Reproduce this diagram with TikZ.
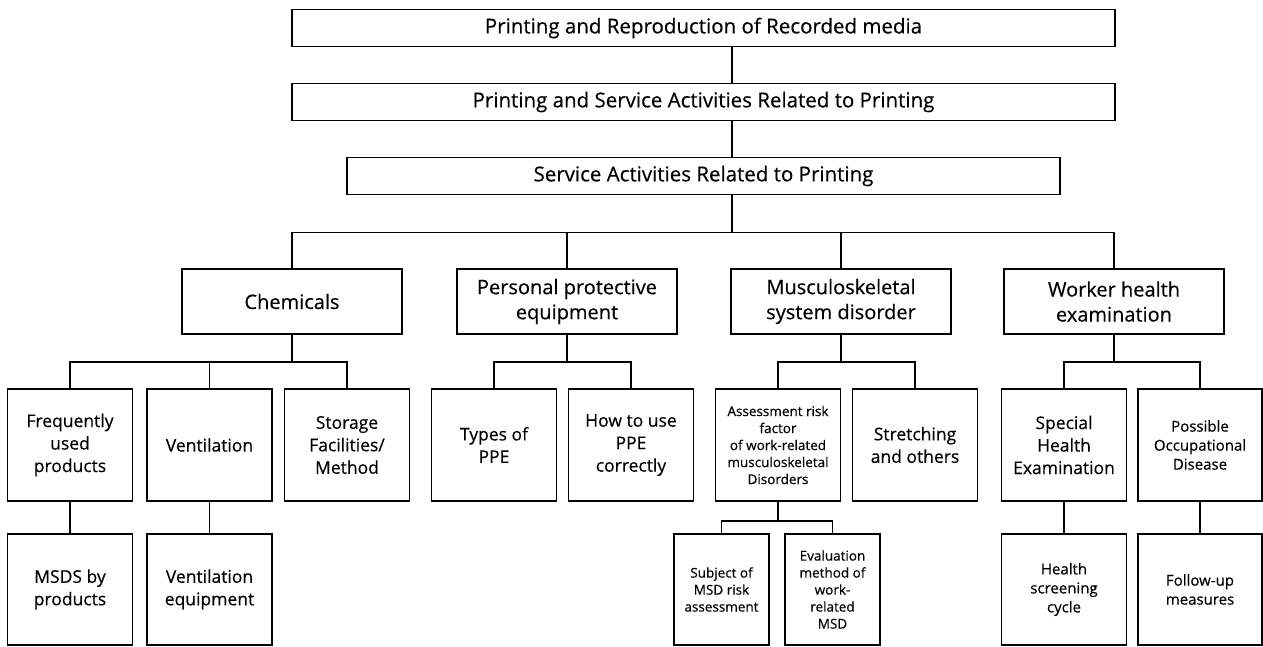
\documentclass[tikz,border=0pt]{standalone}
\usepackage{fontspec}
\setmainfont{Open Sans}[FakeBold=0.4]

\begin{document}
\begin{tikzpicture}[x=1pt,y=-1pt]
\tikzstyle{every node}+=[inner sep=0pt,align=center]
\tikzstyle{headbox}=[draw,line width=1.8pt,minimum height=37pt,font=\fontsize{20.5}{25}\selectfont]
\tikzstyle{catbox}=[draw,line width=2.2pt,minimum width=220pt,minimum height=65pt,font=\fontsize{20}{25}\selectfont]
\tikzstyle{itembox}=[draw,line width=1.4pt,minimum width=125pt,minimum height=112pt,font=\fontsize{17.5}{22.5}\selectfont]
\tikzstyle{smallbox}=[itembox,font=\fontsize{13.5}{17}\selectfont]
\tikzstyle{midbox}=[itembox,font=\fontsize{15}{19}\selectfont]
\tikzstyle{link}=[line width=1.6pt]
\useasboundingbox (0,0) rectangle (1263,647);
\node[headbox,minimum width=823pt] (prm) at (703.5,28) {Printing and Reproduction of Recorded media};
\node[headbox,minimum width=823pt] (psp) at (703.5,102) {Printing and Service Activities Related to Printing};
\node[headbox,minimum width=713pt] (svc) at (703.5,176) {Service Activities Related to Printing};
\node[catbox] (chem) at (292,301.5) {Chemicals};
\node[catbox] (ppe) at (567,301.5) {Personal protective\\equipment};
\node[catbox] (msd) at (841,301.5) {Musculoskeletal\\system disorder};
\node[catbox] (whe) at (1114,301.5) {Worker health\\examination};
\node[itembox] (freq) at (70,445) {Frequently\\used\\products};
\node[itembox] (vent) at (209.5,445) {Ventilation};
\node[itembox] (stor) at (347,445) {Storage\\Facilities/\\Method};
\node[itembox] (tppe) at (494,445) {Types of\\PPE};
\node[itembox] (uppe) at (631,445) {How to use\\PPE\\correctly};
\node[smallbox] (asrf) at (778,445) {Assessment risk\\factor\\of work-related\\musculoskeletal\\Disorders};
\node[itembox] (strc) at (915,445) {Stretching\\and others};
\node[itembox] (sphe) at (1064,445) {Special\\Health\\Examination};
\node[midbox,minimum width=124pt] (pocd) at (1200,445) {Possible\\Occupational\\Disease};
\node[itembox,minimum height=111pt] (msds) at (70,589.5) {MSDS by\\products};
\node[itembox,minimum height=111pt] (veq) at (209.5,589.5) {Ventilation\\equipment};
\node[smallbox,minimum width=95pt,minimum height=111pt] (subj) at (721.5,589.5) {Subject of\\MSD risk\\assessment};
\node[smallbox,minimum width=95pt,minimum height=111pt] (evam) at (832.5,589.5) {Evaluation\\method of\\work-\\related\\MSD};
\node[midbox,minimum height=111pt] (hsc) at (1064,589.5) {Health\\screening\\cycle};
\node[midbox,minimum width=124pt,minimum height=111pt] (fum) at (1200,589.5) {Follow-up\\measures};
\draw[link] ([xshift=28.5pt]prm.south) -- ([xshift=28.5pt]psp.north);
\draw[link] ([xshift=28.5pt]psp.south) -- ([xshift=28.5pt]svc.north);
\foreach \c in {chem,ppe,msd,whe}
  \draw[link] ([xshift=28.5pt]svc.south) -- ++(0,37) -| (\c.north);
\foreach \c in {freq,vent,stor}
  \draw[link] (chem.south) -- ++(0,27) -| (\c.north);
\foreach \c in {tppe,uppe}
  \draw[link] (ppe.south) -- ++(0,27) -| (\c.north);
\foreach \c in {asrf,strc}
  \draw[link] (msd.south) -- ++(0,27) -| (\c.north);
\foreach \c in {sphe,pocd}
  \draw[link] (whe.south) -- ++(0,27) -| (\c.north);
\foreach \c in {subj,evam}
  \draw[link] (asrf.south) -- ++(0,19) -| (\c.north);
\draw[link] (freq) -- (msds);
\draw[link] (vent) -- (veq);
\draw[link] (sphe) -- (hsc);
\draw[link] (pocd) -- (fum);
\end{tikzpicture}
\end{document}
